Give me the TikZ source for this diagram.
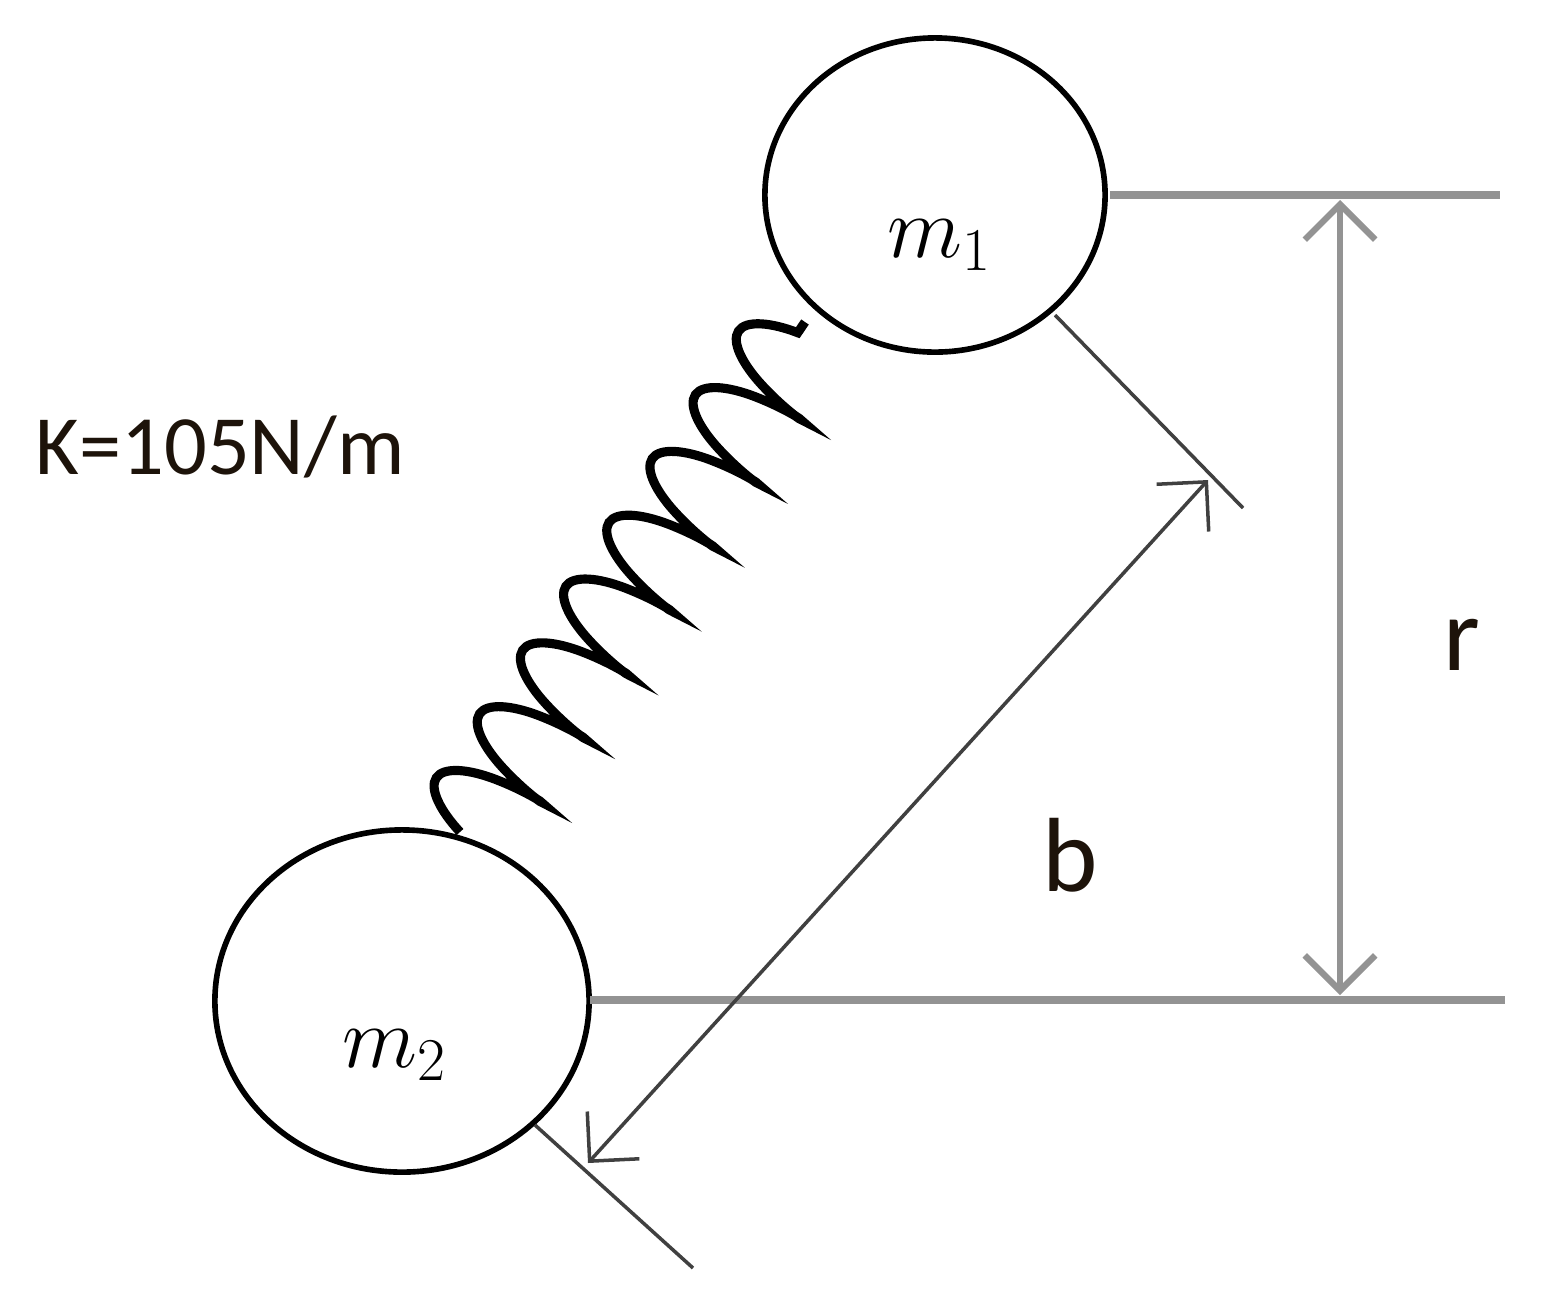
\documentclass[tikz,border=0pt]{standalone}
\usepackage{fontspec}
\setsansfont{Carlito}
\usetikzlibrary{arrows.meta,decorations.pathmorphing,shapes.geometric}
\begin{document}
\begin{tikzpicture}[x=0.01cm,y=-0.01cm,
  ring/.style={draw=black,line width=1.6pt},
  guide/.style={draw=gray!85,line width=2.2pt},
  thin/.style={draw=black!75,line width=1pt},
  dimarrow/.style={{Straight Barb[length=10pt,width=20pt]}-{Straight Barb[length=10pt,width=20pt]}},
  lbl/.style={font=\sffamily\fontsize{30}{30}\selectfont,text=black!85!brown}]
\useasboundingbox (0,0) rectangle (1554,1302);
\node[ring,ellipse,minimum width=3.4cm,minimum height=3.14cm,inner sep=0] (m1) at (935,195) {};
\node[ring,ellipse,minimum width=3.74cm,minimum height=3.42cm,inner sep=0] (m2) at (402,1001) {};
\node at (940,245) {\fontsize{26}{26}\selectfont$m_1$};
\node at (395,1055) {\fontsize{26}{26}\selectfont$m_2$};
\coordinate (a1) at (1110,195); \coordinate (a2) at (1500,195);
\coordinate (b1) at (590,1000); \coordinate (b2) at (1505,1000);
\draw[guide] (a1) -- (a2);
\draw[guide] (b1) -- (b2);
\coordinate (v1) at (1340,200); \coordinate (v2) at (1340,995);
\draw[guide,line width=1.8pt,dimarrow] (v1) -- (v2);
\coordinate (e1) at (1055,315); \coordinate (e2) at (1243,508);
\coordinate (f1) at (535,1125); \coordinate (f2) at (693,1268);
\draw[thin] (e1) -- (e2);
\draw[thin] (f1) -- (f2);
\coordinate (d1) at (588,1163); \coordinate (d2) at (1208,480);
\draw[thin,dimarrow] (d1) -- (d2);
\coordinate (s1) at (460,832); \coordinate (s2) at (805,322);
\draw[line width=2.6pt,decorate,decoration={coil,aspect=0.25,segment length=0.77cm,amplitude=0.5cm}] (s1) -- (s2);
\node[lbl,font=\sffamily\fontsize{24}{24}\selectfont] (k) at (220,447) {K=105N/m};
\node[lbl] (r) at (1462,645) {r};
\node[lbl] (b) at (1070,855) {b};
\end{tikzpicture}
\end{document}
